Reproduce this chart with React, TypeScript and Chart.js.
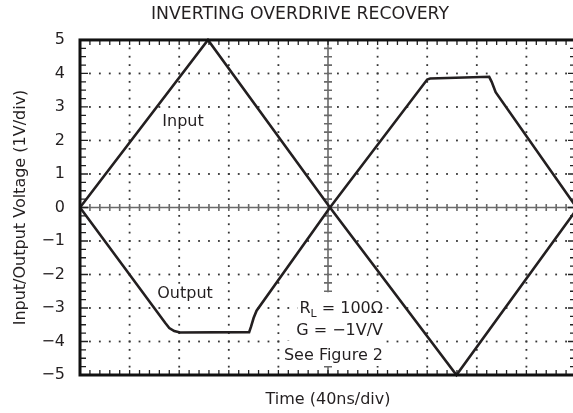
import React, { useEffect, useRef } from "react";
import { Chart, registerables } from "chart.js";

Chart.register(...registerables);

// ---- data (time in divisions of 40ns, voltage in V) ----
const inputTime = [0, 2.58, 5.04, 7.59, 10];
const inputVolts = [0, 5, 0, -5, -0.08];
const outputTime = [0, 1.72, 1.8, 1.9, 2.02, 3.41, 3.45, 3.5, 3.56, 5.04, 7.0, 7.06, 8.25, 8.3, 8.38, 10];
const outputVolts = [0, -3.45, -3.6, -3.69, -3.73, -3.72, -3.55, -3.3, -3.08, 0, 3.82, 3.85, 3.9, 3.75, 3.44, 0.02];
const yTickValues = [-5, -4, -3, -2, -1, 0, 1, 2, 3, 4, 5];
const yTickLabels = ["−5", "−4", "−3", "−2", "−1", "0", "1", "2", "3", "4", "5"];

const TITLE = "INVERTING OVERDRIVE RECOVERY";
const X_TITLE = "Time (40ns/div)";
const Y_TITLE = "Input/Output Voltage (1V/div)";

const FONT = '"DejaVu Sans", sans-serif';
const INK = "#231f20";

function whiteBox(ctx: any, x1: number, y1: number, x2: number, y2: number) {
  ctx.save();
  ctx.fillStyle = "#ffffff";
  ctx.fillRect(x1, y1, x2 - x1, y2 - y1);
  ctx.restore();
}

const scopePlugin = {
  id: "scope",
  beforeDatasetsDraw(chart: any) {
    const { ctx, chartArea: a, scales } = chart;
    const x = scales.x;
    const y = scales.y;
    ctx.save();
    ctx.fillStyle = "#333";
    for (let d = 1; d < 10; d++) {
      if (d === 5) continue;
      const px = x.getPixelForValue(d);
      for (let i = 0; i <= 40; i++) {
        const py = y.getPixelForValue(-5 + i * 0.25);
        ctx.fillRect(px - 0.9, py - 0.9, 1.8, 1.8);
      }
    }
    for (let v = -4; v <= 4; v++) {
      if (v === 0) continue;
      const py = y.getPixelForValue(v);
      for (let i = 0; i <= 50; i++) {
        const px = x.getPixelForValue(i * 0.2);
        ctx.fillRect(px - 0.9, py - 0.9, 1.8, 1.8);
      }
    }
    const x0 = x.getPixelForValue(5);
    const y0 = y.getPixelForValue(0);
    ctx.strokeStyle = "#6a6a6a";
    ctx.lineWidth = 1.6;
    ctx.beginPath();
    ctx.moveTo(a.left, y0);
    ctx.lineTo(a.right, y0);
    ctx.moveTo(x0, a.top);
    ctx.lineTo(x0, a.bottom);
    for (let i = 0; i <= 50; i++) {
      const px = x.getPixelForValue(i * 0.2);
      ctx.moveTo(px, y0 - 3.5);
      ctx.lineTo(px, y0 + 3.5);
    }
    for (let i = 0; i <= 40; i++) {
      const py = y.getPixelForValue(-5 + i * 0.25);
      ctx.moveTo(x0 - 4, py);
      ctx.lineTo(x0 + 4, py);
    }
    ctx.stroke();
    ctx.restore();
  },
  afterDatasetsDraw(chart: any) {
    const { ctx, chartArea: a, scales } = chart;
    const x = scales.x;
    const y = scales.y;
    ctx.save();
    // border ticks
    ctx.strokeStyle = "#222";
    ctx.lineWidth = 1.3;
    ctx.beginPath();
    for (let i = 0; i <= 50; i++) {
      const px = x.getPixelForValue(i * 0.2);
      ctx.moveTo(px, a.top);
      ctx.lineTo(px, a.top + 5);
      ctx.moveTo(px, a.bottom);
      ctx.lineTo(px, a.bottom - 5);
    }
    for (let i = 0; i <= 40; i++) {
      const py = y.getPixelForValue(-5 + i * 0.25);
      const len = i % 4 === 0 ? 8 : 6;
      ctx.moveTo(a.left, py);
      ctx.lineTo(a.left + len, py);
      ctx.moveTo(a.right, py);
      ctx.lineTo(a.right - len, py);
    }
    ctx.stroke();
    // frame
    ctx.strokeStyle = "#111";
    ctx.lineWidth = 3;
    ctx.strokeRect(a.left, a.top, a.right - a.left, a.bottom - a.top);

    // annotations
    ctx.textBaseline = "alphabetic";
    ctx.font = `16px ${FONT}`;

    const label = (text: string, cx: number, base: number) => {
      const w = ctx.measureText(text).width;
      whiteBox(ctx, cx - w / 2 - 2, base - 14, cx + w / 2 + 2, base + 5);
      ctx.fillStyle = INK;
      ctx.textAlign = "center";
      ctx.fillText(text, cx, base);
    };
    label("Input", x.getPixelForValue(2.077), y.getPixelForValue(2.433));
    label("Output", x.getPixelForValue(2.117), y.getPixelForValue(-2.7));

    const rightX = x.getPixelForValue(6.109);
    // R_L = 100Ω with subscript
    const baseR = y.getPixelForValue(-3.158);
    const baseG = y.getPixelForValue(-3.806);
    const baseS = y.getPixelForValue(-4.552);
    const rest = " = 100Ω";
    ctx.font = `16px ${FONT}`;
    const wR = ctx.measureText("R").width;
    const wRest = ctx.measureText(rest).width;
    const wG = ctx.measureText("G = −1V/V").width;
    const wS = ctx.measureText("See Figure 2").width;
    ctx.font = `11px ${FONT}`;
    const wL = ctx.measureText("L").width;
    const startX = rightX - (wR + wL + wRest);

    whiteBox(ctx, startX - 2, baseR - 21, rightX + 2, baseR + 5);
    whiteBox(ctx, rightX - wG - 2, baseG - 17, rightX + 2, baseG + 6);
    whiteBox(ctx, rightX - wS - 2, baseS - 19, rightX + 2, baseS + 6);

    ctx.fillStyle = INK;
    ctx.textAlign = "left";
    ctx.font = `16px ${FONT}`;
    ctx.fillText("R", startX, baseR);
    ctx.font = `11px ${FONT}`;
    ctx.fillText("L", startX + wR, baseR + 3.5);
    ctx.font = `16px ${FONT}`;
    ctx.fillText(rest, startX + wR + wL, baseR);

    ctx.textAlign = "right";
    ctx.fillText("G = −1V/V", rightX, baseG);
    ctx.fillText("See Figure 2", rightX, baseS);
    ctx.restore();
  },
};

export default function App() {
  const canvasRef = useRef<HTMLCanvasElement | null>(null);

  useEffect(() => {
    document.documentElement.style.overflow = "hidden";
    const canvas = canvasRef.current;
    if (!canvas) return;
    const chart = new Chart(canvas, {
      type: "line",
      data: {
        datasets: [
          {
            label: "Input",
            data: inputTime.map((t, i) => ({ x: t, y: inputVolts[i] })),
            borderColor: INK,
            borderWidth: 2.6,
            pointRadius: 0,
            tension: 0,
            fill: false,
            clip: 4,
          },
          {
            label: "Output",
            data: outputTime.map((t, i) => ({ x: t, y: outputVolts[i] })),
            borderColor: INK,
            borderWidth: 2.6,
            pointRadius: 0,
            tension: 0,
            fill: false,
            clip: 4,
          },
        ],
      },
      options: {
        responsive: false,
        animation: false,
        events: [],
        layout: { padding: { left: 24, right: 4, top: 0, bottom: 0 } },
        plugins: {
          legend: { display: false },
          tooltip: { enabled: false },
          title: {
            display: true,
            text: TITLE,
            color: INK,
            font: { family: FONT, size: 17.3, weight: "normal" },
            padding: { top: 4.4, bottom: 14.8 },
          },
        },
        scales: {
          x: {
            type: "linear",
            min: 0,
            max: 10,
            grid: { display: false, drawTicks: false },
            border: { display: false },
            ticks: { display: false },
            title: {
              display: true,
              text: X_TITLE,
              color: INK,
              font: { family: FONT, size: 16 },
              padding: { top: 0, bottom: 3.4 },
            },
            afterFit: (s: any) => {
              s.height = 38;
            },
          },
          y: {
            type: "linear",
            min: -5,
            max: 5,
            afterBuildTicks: (s: any) => {
              s.ticks = yTickValues.map((v) => ({ value: v }));
            },
            grid: { display: false, drawTicks: false },
            border: { display: false },
            ticks: {
              padding: 15,
              color: INK,
              font: { family: FONT, size: 16 },
              callback: (v: any) => {
                const i = yTickValues.indexOf(Number(v));
                return i >= 0 ? yTickLabels[i] : "";
              },
            },
            title: {
              display: true,
              text: Y_TITLE,
              color: INK,
              font: { family: FONT, size: 16 },
              padding: { top: -13, bottom: 0 },
            },
            afterFit: (s: any) => {
              s.width = 56;
            },
          },
        },
      },
      plugins: [scopePlugin],
    });
    return () => chart.destroy();
  }, []);

  return (
    <div style={{ position: "fixed", left: 0, top: 0, width: 580, height: 413, background: "#fff" }}>
      <canvas ref={canvasRef} width={580} height={413} style={{ display: "block", width: 580, height: 413 }} />
    </div>
  );
}
